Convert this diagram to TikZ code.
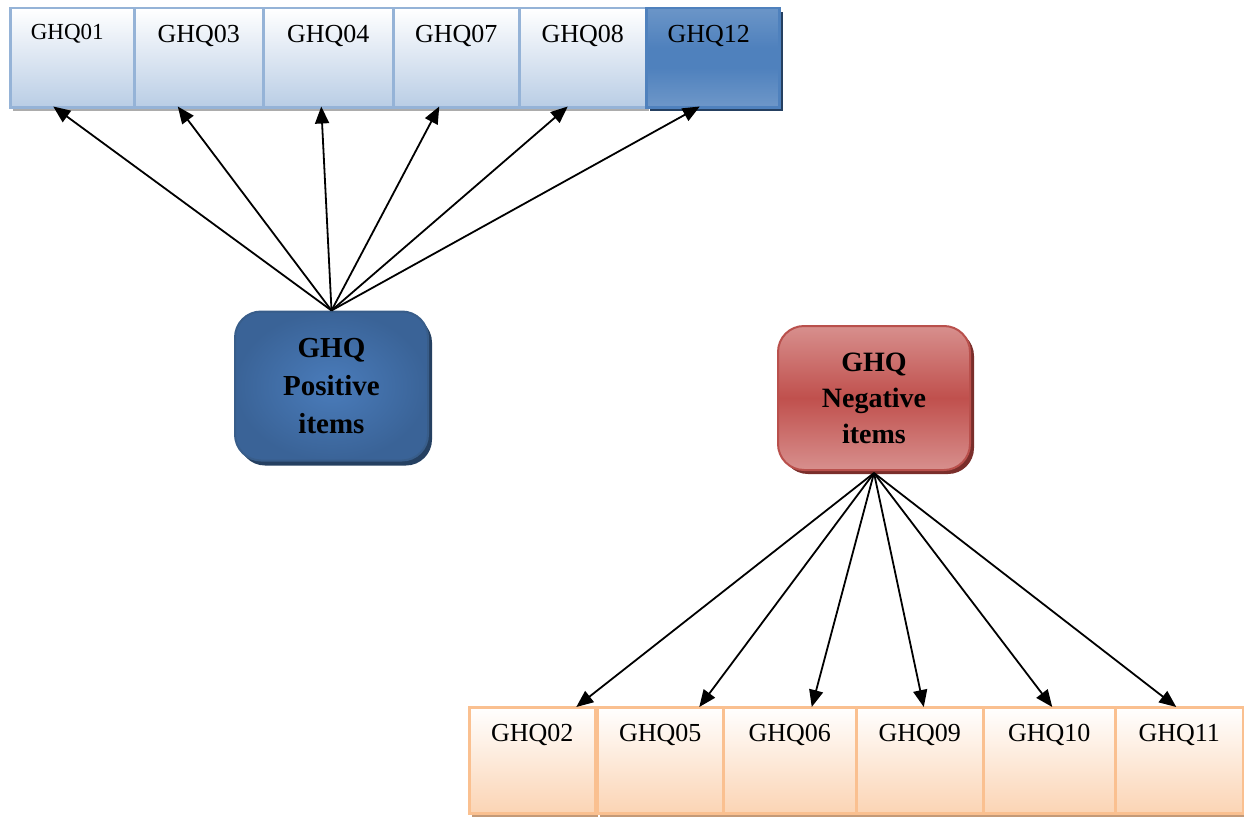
\documentclass[tikz,border=0pt]{standalone}
\usepackage{fontspec}
\setmainfont{Liberation Serif}
\usetikzlibrary{arrows.meta,shadows,calc}
\definecolor{topA}{HTML}{B9CDE5}
\definecolor{topB}{HTML}{95B3D7}
\definecolor{blueM}{HTML}{4F81BD}
\definecolor{blueD}{HTML}{254061}
\definecolor{posIn}{HTML}{4A7CBB}
\definecolor{posOut}{HTML}{3A6397}
\definecolor{posBd}{HTML}{385D8A}
\definecolor{negL}{HTML}{DC9C9A}
\definecolor{negM}{HTML}{C0504D}
\definecolor{negBd}{HTML}{B9504C}
\definecolor{negSh}{HTML}{7A2E2B}
\definecolor{botA}{HTML}{FBD4B4}
\definecolor{botB}{HTML}{FAC090}
\definecolor{botSh}{HTML}{C49A78}
\pgfdeclareverticalshading{ghqtwelve}{100bp}{color(0bp)=(topB); color(45bp)=(blueM); color(55bp)=(blueM); color(100bp)=(topB!90!blueM)}
\pgfdeclareverticalshading{negshade}{100bp}{color(0bp)=(negL); color(20bp)=(negL); color(50bp)=(negM); color(80bp)=(negL); color(100bp)=(negL)}
\tikzset{
  lbl/.style={font=\fontsize{26}{30}\selectfont, anchor=center, yshift=-29pt},
  smalllbl/.style={font=\fontsize{23}{28}\selectfont, anchor=center, yshift=-27pt, xshift=-5pt},
  topbox/.style={draw=topB, line width=2.5pt, top color=white, bottom color=topA,
    anchor=north west, minimum height=99pt, inner sep=0pt,
    drop shadow={shadow xshift=3pt, shadow yshift=-4pt, fill=gray!65, opacity=1}},
  botbox/.style={draw=botB, line width=2.5pt, top color=white, bottom color=botA,
    anchor=north west, minimum height=106pt, inner sep=0pt,
    drop shadow={shadow xshift=3pt, shadow yshift=-4pt, fill=botSh, opacity=1},
    label={[lbl]north:#1}},
  arr/.style={line width=1.8pt, -{Triangle[length=17pt,width=14pt]}},
  bigtxt/.style={font=\fontsize{29}{38}\selectfont\bfseries, align=center}
}
\begin{document}
\begin{tikzpicture}[x=1pt,y=-1pt]
\useasboundingbox (0,0) rectangle (1244,816);
% top row
\node[topbox, minimum width=124pt, label={[smalllbl]north:GHQ01}] (q01) at (9,7) {};
\node[topbox, minimum width=129pt, label={[lbl]north:GHQ03}] (q03) at (133,7) {};
\node[topbox, minimum width=130pt, label={[lbl]north:GHQ04}] (q04) at (262,7) {};
\node[topbox, minimum width=126pt, label={[lbl]north:GHQ07}] (q07) at (392,7) {};
\node[topbox, minimum width=127pt, label={[lbl]north:GHQ08}] (q08) at (518,7) {};
\node[draw=blueM, line width=2.5pt, shading=ghqtwelve, anchor=north west,
  minimum width=133pt, minimum height=99pt, inner sep=0pt,
  drop shadow={shadow xshift=4pt, shadow yshift=-4pt, fill=blueD, opacity=1},
  label={[lbl, xshift=-4pt]north:GHQ12}] (q12) at (645,7) {};
% bottom row
\node[botbox=GHQ02, minimum width=126pt] (q02) at (468,706) {};
\node[botbox=GHQ05, minimum width=126pt] (q05) at (596,706) {};
\node[botbox=GHQ06, minimum width=133pt] (q06) at (722,706) {};
\node[botbox=GHQ09, minimum width=127pt] (q09) at (855,706) {};
\node[botbox=GHQ10, minimum width=132pt] (q10) at (982,706) {};
\node[botbox=GHQ11, minimum width=128pt] (q11) at (1114,706) {};
% factor boxes
\node[bigtxt, draw=posBd, line width=2pt, rounded corners=26pt,
  inner color=posIn, outer color=posOut, minimum width=193pt, minimum height=149pt,
  drop shadow={shadow xshift=4pt, shadow yshift=-5pt, fill=blueD, opacity=1}]
  (pos) at (331.5,386) {GHQ\\Positive\\items};
\node[bigtxt, font=\fontsize{28}{36}\selectfont\bfseries, draw=negBd, line width=2pt,
  rounded corners=26pt, shading=negshade, minimum width=192pt, minimum height=144pt,
  drop shadow={shadow xshift=4pt, shadow yshift=-4pt, fill=negSh, opacity=1}]
  (neg) at (874,398) {GHQ\\Negative\\items};
\path (neg.south) ++(0,2) coordinate (negfoot);
% arrows
\draw[arr] (pos.north) -- ([xshift=-19pt,yshift=2pt]q01.south);
\draw[arr] (pos.north) -- ([xshift=-21pt,yshift=2pt]q03.south);
\draw[arr] (pos.north) -- ([xshift=-7pt,yshift=2pt]q04.south);
\draw[arr] (pos.north) -- ([xshift=-17pt,yshift=2pt]q07.south);
\draw[arr] (pos.north) -- ([xshift=-15pt,yshift=2pt]q08.south);
\draw[arr] (pos.north) -- ([xshift=-13pt,yshift=2pt]q12.south);
\draw[arr] (negfoot) -- ([xshift=44pt,yshift=-1pt]q02.north);
\draw[arr] (negfoot) -- ([xshift=39pt,yshift=-1pt]q05.north);
\draw[arr] (negfoot) -- ([xshift=22pt,yshift=-1pt]q06.north);
\draw[arr] (negfoot) -- ([xshift=4pt,yshift=-1pt]q09.north);
\draw[arr] (negfoot) -- ([xshift=3pt,yshift=-1pt]q10.north);
\draw[arr] (negfoot) -- ([xshift=-3pt,yshift=-1pt]q11.north);
\end{tikzpicture}
\end{document}
